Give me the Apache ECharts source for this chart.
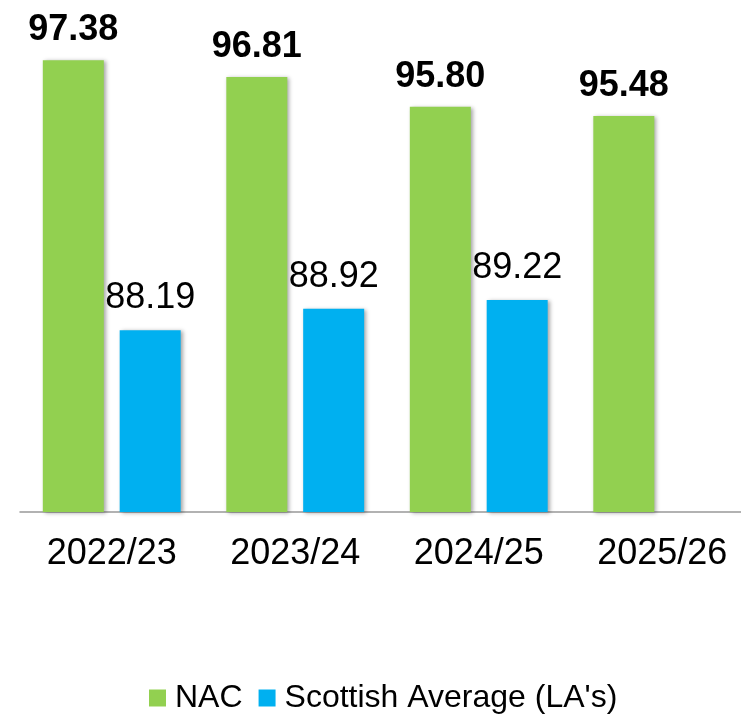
<!DOCTYPE html>
<html>
<head>
<meta charset="utf-8">
<script src="https://cdn.jsdelivr.net/npm/echarts@6/dist/echarts.min.js"></script>
<style>
  html, body { margin: 0; padding: 0; background: #fff; }
  #chart { width: 741px; height: 714px; }
</style>
</head>
<body>
<div id="chart"></div>
<script>
const years = ['2022/23', '2023/24', '2024/25', '2025/26']
const nac = [97.38, 96.81, 95.80, 95.48]
const scottishAvg = [88.19, 88.92, 89.22, null]

const font = '"Liberation Sans", Arial, sans-serif'
const green = '#92D050'
const blue = '#00B0F0'

const barShadow = {
  shadowBlur: 4,
  shadowOffsetX: 2,
  shadowOffsetY: 1,
  shadowColor: 'rgba(0,0,0,0.35)'
}

const chart = echarts.init(document.getElementById('chart'))

chart.setOption({
  animation: false,
  textStyle: { fontFamily: font },
  grid: {
    left: 20,
    right: -13,
    top: 42,
    bottom: 202,
    containLabel: false,
    outerBoundsMode: 'none'
  },
  legend: {
    data: ['NAC', "Scottish Average (LA's)"],
    left: 144,
    top: 677,
    icon: 'rect',
    itemWidth: 17,
    itemHeight: 17,
    itemGap: 16,
    textStyle: {
      fontSize: 32,
      color: '#000',
      fontFamily: font,
      padding: [0, 0, 0, 4]
    }
  },
  xAxis: {
    type: 'category',
    data: years,
    axisTick: { show: false },
    axisLine: { show: true, lineStyle: { color: '#999', width: 1.5 } },
    axisLabel: {
      fontSize: 36,
      color: '#000',
      margin: 24,
      fontFamily: font
    }
  },
  yAxis: {
    type: 'value',
    min: 82,
    max: 98,
    show: false,
    splitLine: { show: false }
  },
  series: [
    {
      name: 'NAC',
      type: 'bar',
      data: nac,
      barWidth: 61,
      barGap: '26%',
      itemStyle: Object.assign({ color: green }, barShadow),
      label: {
        show: true,
        position: 'top',
        distance: 12,
        fontSize: 36,
        fontWeight: 'bold',
        color: '#000',
        fontFamily: font,
        formatter: (p) => p.value.toFixed(2)
      }
    },
    {
      name: "Scottish Average (LA's)",
      type: 'bar',
      data: scottishAvg,
      barWidth: 61,
      itemStyle: Object.assign({ color: blue }, barShadow),
      label: {
        show: true,
        position: 'top',
        distance: 14,
        fontSize: 36,
        color: '#000',
        fontFamily: font,
        formatter: (p) => p.value.toFixed(2)
      }
    }
  ]
})
</script>
</body>
</html>
